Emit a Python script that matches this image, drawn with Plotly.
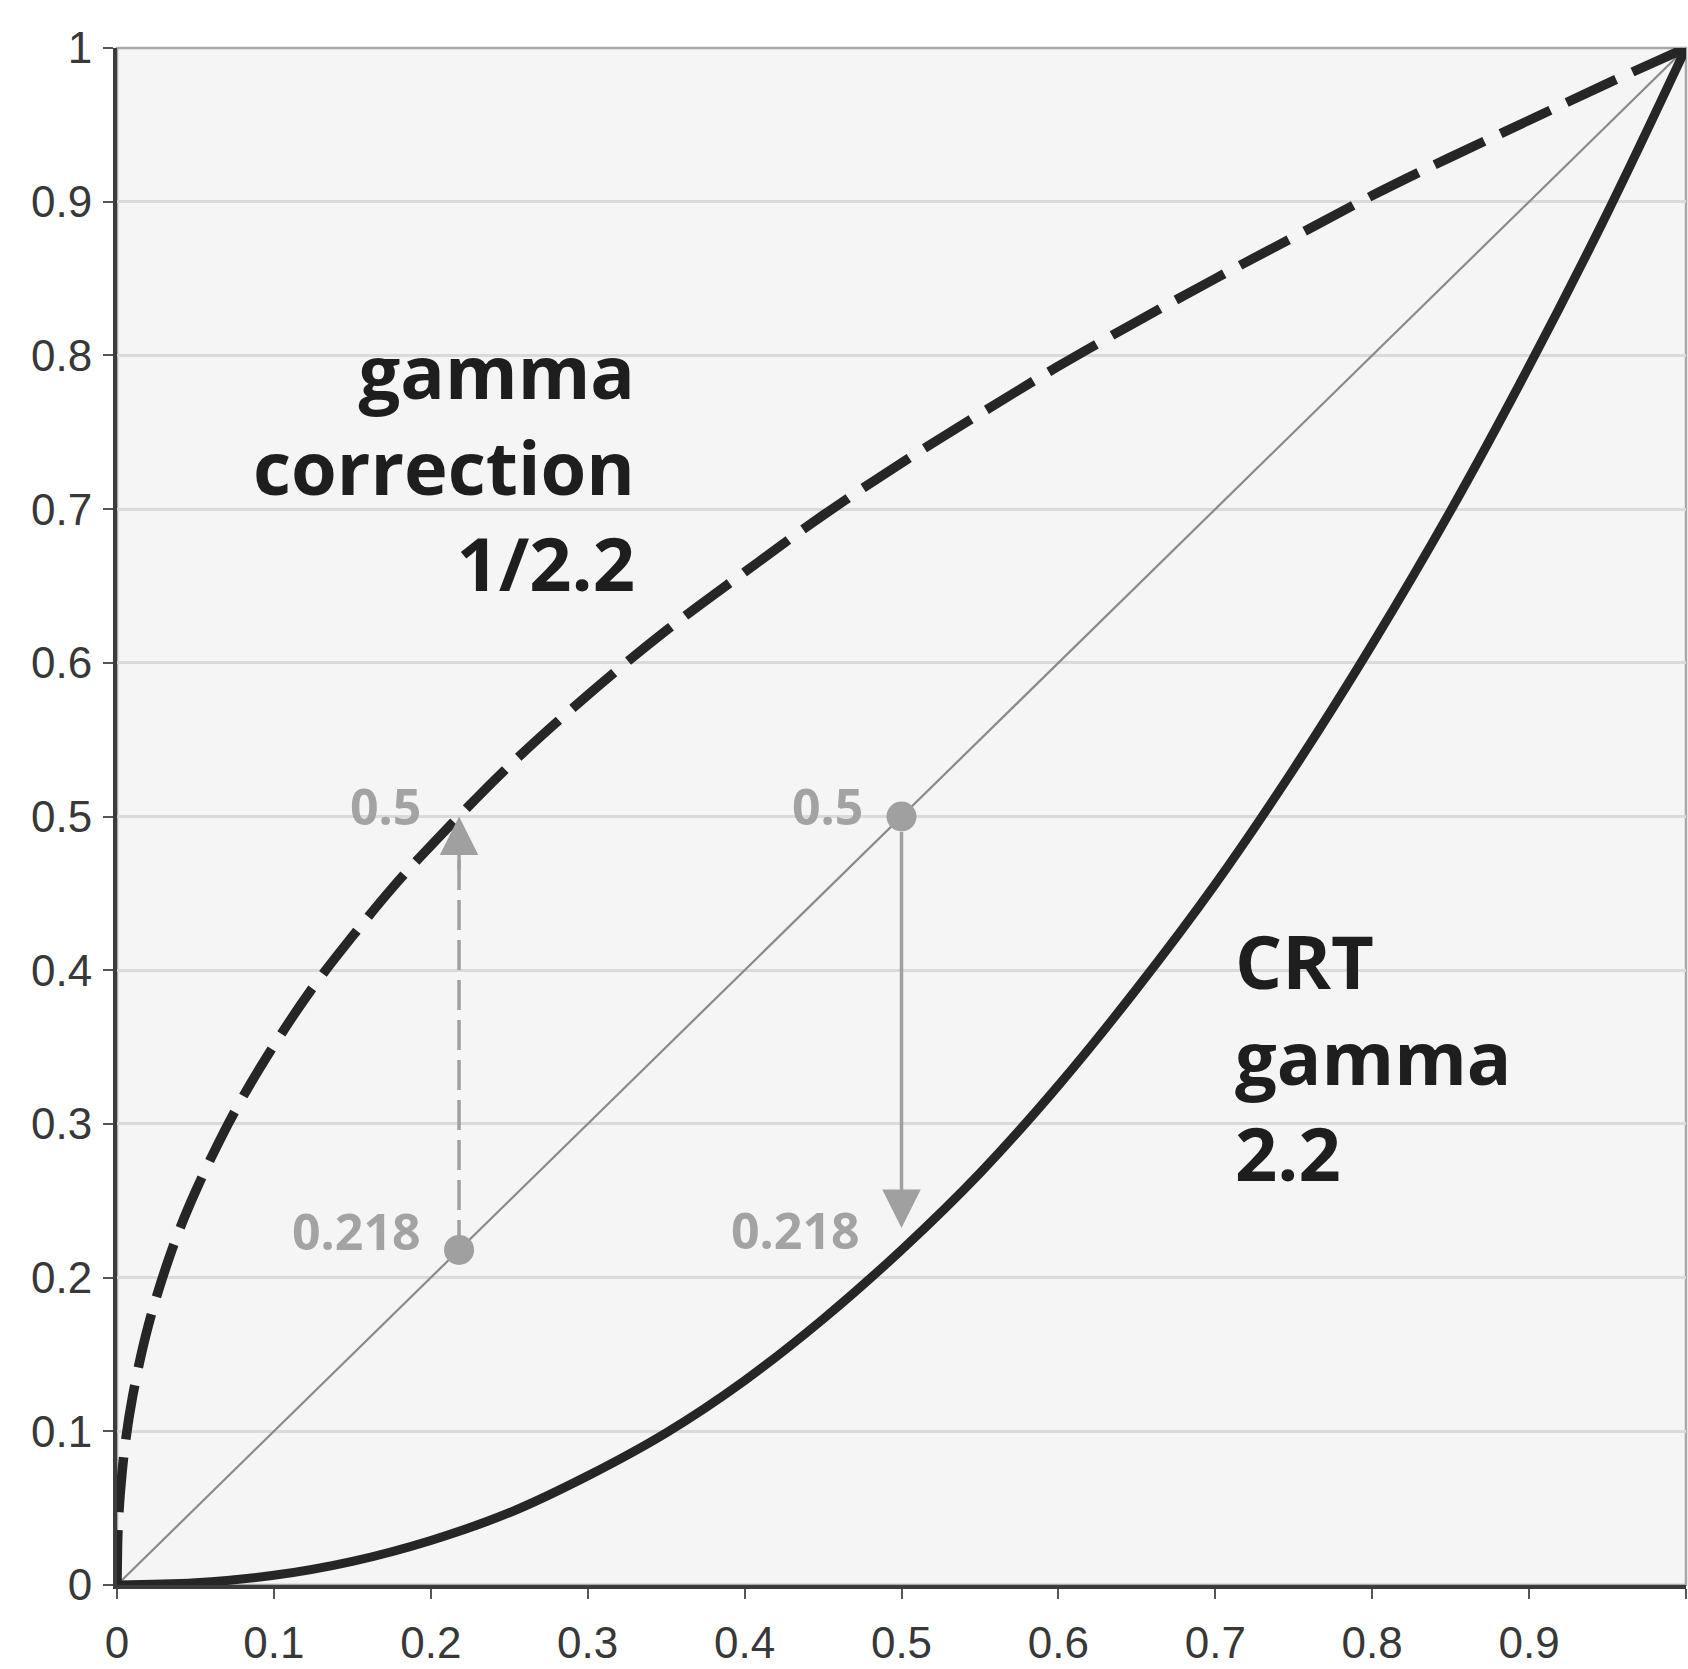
import plotly.graph_objects as go

# Encoded signal values read along the x axis
x_corr = [0, 0.0005, 0.001, 0.002, 0.005, 0.01, 0.02, 0.035, 0.05, 0.075, 0.1, 0.125,
          0.15, 0.175, 0.2, 0.25, 0.3, 0.35, 0.4, 0.45, 0.5, 0.55, 0.6, 0.65, 0.7,
          0.75, 0.8, 0.85, 0.9, 0.95, 1.0]
y_corr = [0, 0.032, 0.043, 0.059, 0.090, 0.123, 0.169, 0.218, 0.256, 0.308, 0.351, 0.389,
          0.422, 0.453, 0.481, 0.533, 0.579, 0.621, 0.659, 0.696, 0.730, 0.762, 0.793,
          0.822, 0.850, 0.877, 0.904, 0.929, 0.953, 0.977, 1.0]

x_crt = [0, 0.05, 0.1, 0.15, 0.2, 0.25, 0.3, 0.35, 0.4, 0.45, 0.5, 0.55, 0.6, 0.65,
         0.7, 0.75, 0.8, 0.85, 0.9, 0.95, 1.0]
y_crt = [0, 0.0014, 0.0063, 0.0154, 0.029, 0.047, 0.071, 0.099, 0.133, 0.173, 0.218,
         0.268, 0.325, 0.388, 0.456, 0.531, 0.612, 0.699, 0.793, 0.893, 1.0]

x_linear = [0, 1]
y_linear = [0, 1]

# Worked example: 0.218 -> 0.5 (correction) and 0.5 -> 0.218 (CRT)
pt_low = 0.218
pt_mid = 0.5

tick_vals = [0, 0.1, 0.2, 0.3, 0.4, 0.5, 0.6, 0.7, 0.8, 0.9, 1]
tick_text = ["0", "0.1", "0.2", "0.3", "0.4", "0.5", "0.6", "0.7", "0.8", "0.9", "1"]

label_left = "gamma<br>correction<br>1/2.2"
label_right = "CRT<br>gamma<br>2.2"

DARK = "#262626"
GREY = "#a0a0a0"

fig = go.Figure()

fig.add_trace(go.Scatter(x=x_linear, y=y_linear, mode="lines",
                         line=dict(color="#8a8a8a", width=2.2), hoverinfo="skip"))
fig.add_trace(go.Scatter(x=x_corr, y=y_corr, mode="lines", line_shape="spline",
                         line=dict(color=DARK, width=9.5, dash="55px,18px"), hoverinfo="skip"))
fig.add_trace(go.Scatter(x=x_crt, y=y_crt, mode="lines", line_shape="spline",
                         line=dict(color=DARK, width=9), hoverinfo="skip"))

# dashed shaft of the upward arrow
fig.add_trace(go.Scatter(x=[pt_low, pt_low], y=[pt_low, pt_mid - 0.025], mode="lines",
                         line=dict(color=GREY, width=3.5, dash="30px,10px"), hoverinfo="skip"))

# example points on the linear line
fig.add_trace(go.Scatter(x=[pt_low, pt_mid], y=[pt_low, pt_mid], mode="markers",
                         marker=dict(color=GREY, size=30), hoverinfo="skip"))

annotations = []
# arrowhead of the dashed arrow
annotations.append(dict(x=pt_low, y=pt_mid, ax=pt_low, ay=pt_mid - 0.035,
                        xref="x", yref="y", axref="x", ayref="y", text="",
                        showarrow=True, arrowhead=2, arrowsize=2.2, arrowwidth=3.5,
                        arrowcolor=GREY, standoff=0))
# solid downward arrow
annotations.append(dict(x=pt_mid, y=pt_low, ax=pt_mid, ay=pt_mid,
                        xref="x", yref="y", axref="x", ayref="y", text="",
                        showarrow=True, arrowhead=2, arrowsize=2.2, arrowwidth=3.5,
                        arrowcolor=GREY, standoff=22, startstandoff=14))

num_font = dict(family="Open Sans", size=50, color="#a3a3a3", weight="bold")
for xv, yv, txt in [(0.195, 0.507, "0.5"), (0.195, 0.230, "0.218"),
                    (0.477, 0.507, "0.5"), (0.475, 0.231, "0.218")]:
    annotations.append(dict(x=xv, y=yv, xref="x", yref="y", text=txt, showarrow=False,
                            xanchor="right", yanchor="middle", font=num_font))

big_font = dict(family="Open Sans", size=74, color="#1e1e1e", weight="bold")
annotations.append(dict(x=0.3314, y=0.728, xref="x", yref="y", text=label_left,
                        showarrow=False, xanchor="right", yanchor="middle", align="right",
                        font=big_font))
annotations.append(dict(x=0.711, y=0.344, xref="x", yref="y", text=label_right,
                        showarrow=False, xanchor="left", yanchor="middle", align="left",
                        font=big_font))

fig.update_layout(
    width=1688, height=1669, autosize=False,
    margin=dict(l=117, r=2, t=48, b=84),
    paper_bgcolor="white", plot_bgcolor="#f5f5f5",
    showlegend=False,
    annotations=annotations,
    shapes=[dict(type="rect", xref="paper", yref="paper", x0=0, y0=0, x1=1, y1=1,
                 line=dict(color="#a8a8a8", width=2.5), layer="below")],
)

axis_font = dict(family="Liberation Sans", size=44, color="#383838")
fig.update_xaxes(range=[0, 1], tickvals=tick_vals, ticktext=tick_text,
                 showgrid=False, zeroline=False, automargin=False,
                 showline=True, linecolor="#3c3c3c", linewidth=4,
                 ticks="outside", ticklen=10, tickwidth=2, tickcolor="#555",
                 ticklabelstandoff=6, tickfont=axis_font)
fig.update_yaxes(range=[0, 1], tickvals=tick_vals, ticktext=tick_text,
                 showgrid=True, gridcolor="#dadada", gridwidth=3, zeroline=False,
                 automargin=False,
                 showline=True, linecolor="#3c3c3c", linewidth=4,
                 ticks="outside", ticklen=10, tickwidth=2, tickcolor="#555",
                 ticklabelstandoff=2, tickfont=axis_font)

fig.write_html("out.html")
